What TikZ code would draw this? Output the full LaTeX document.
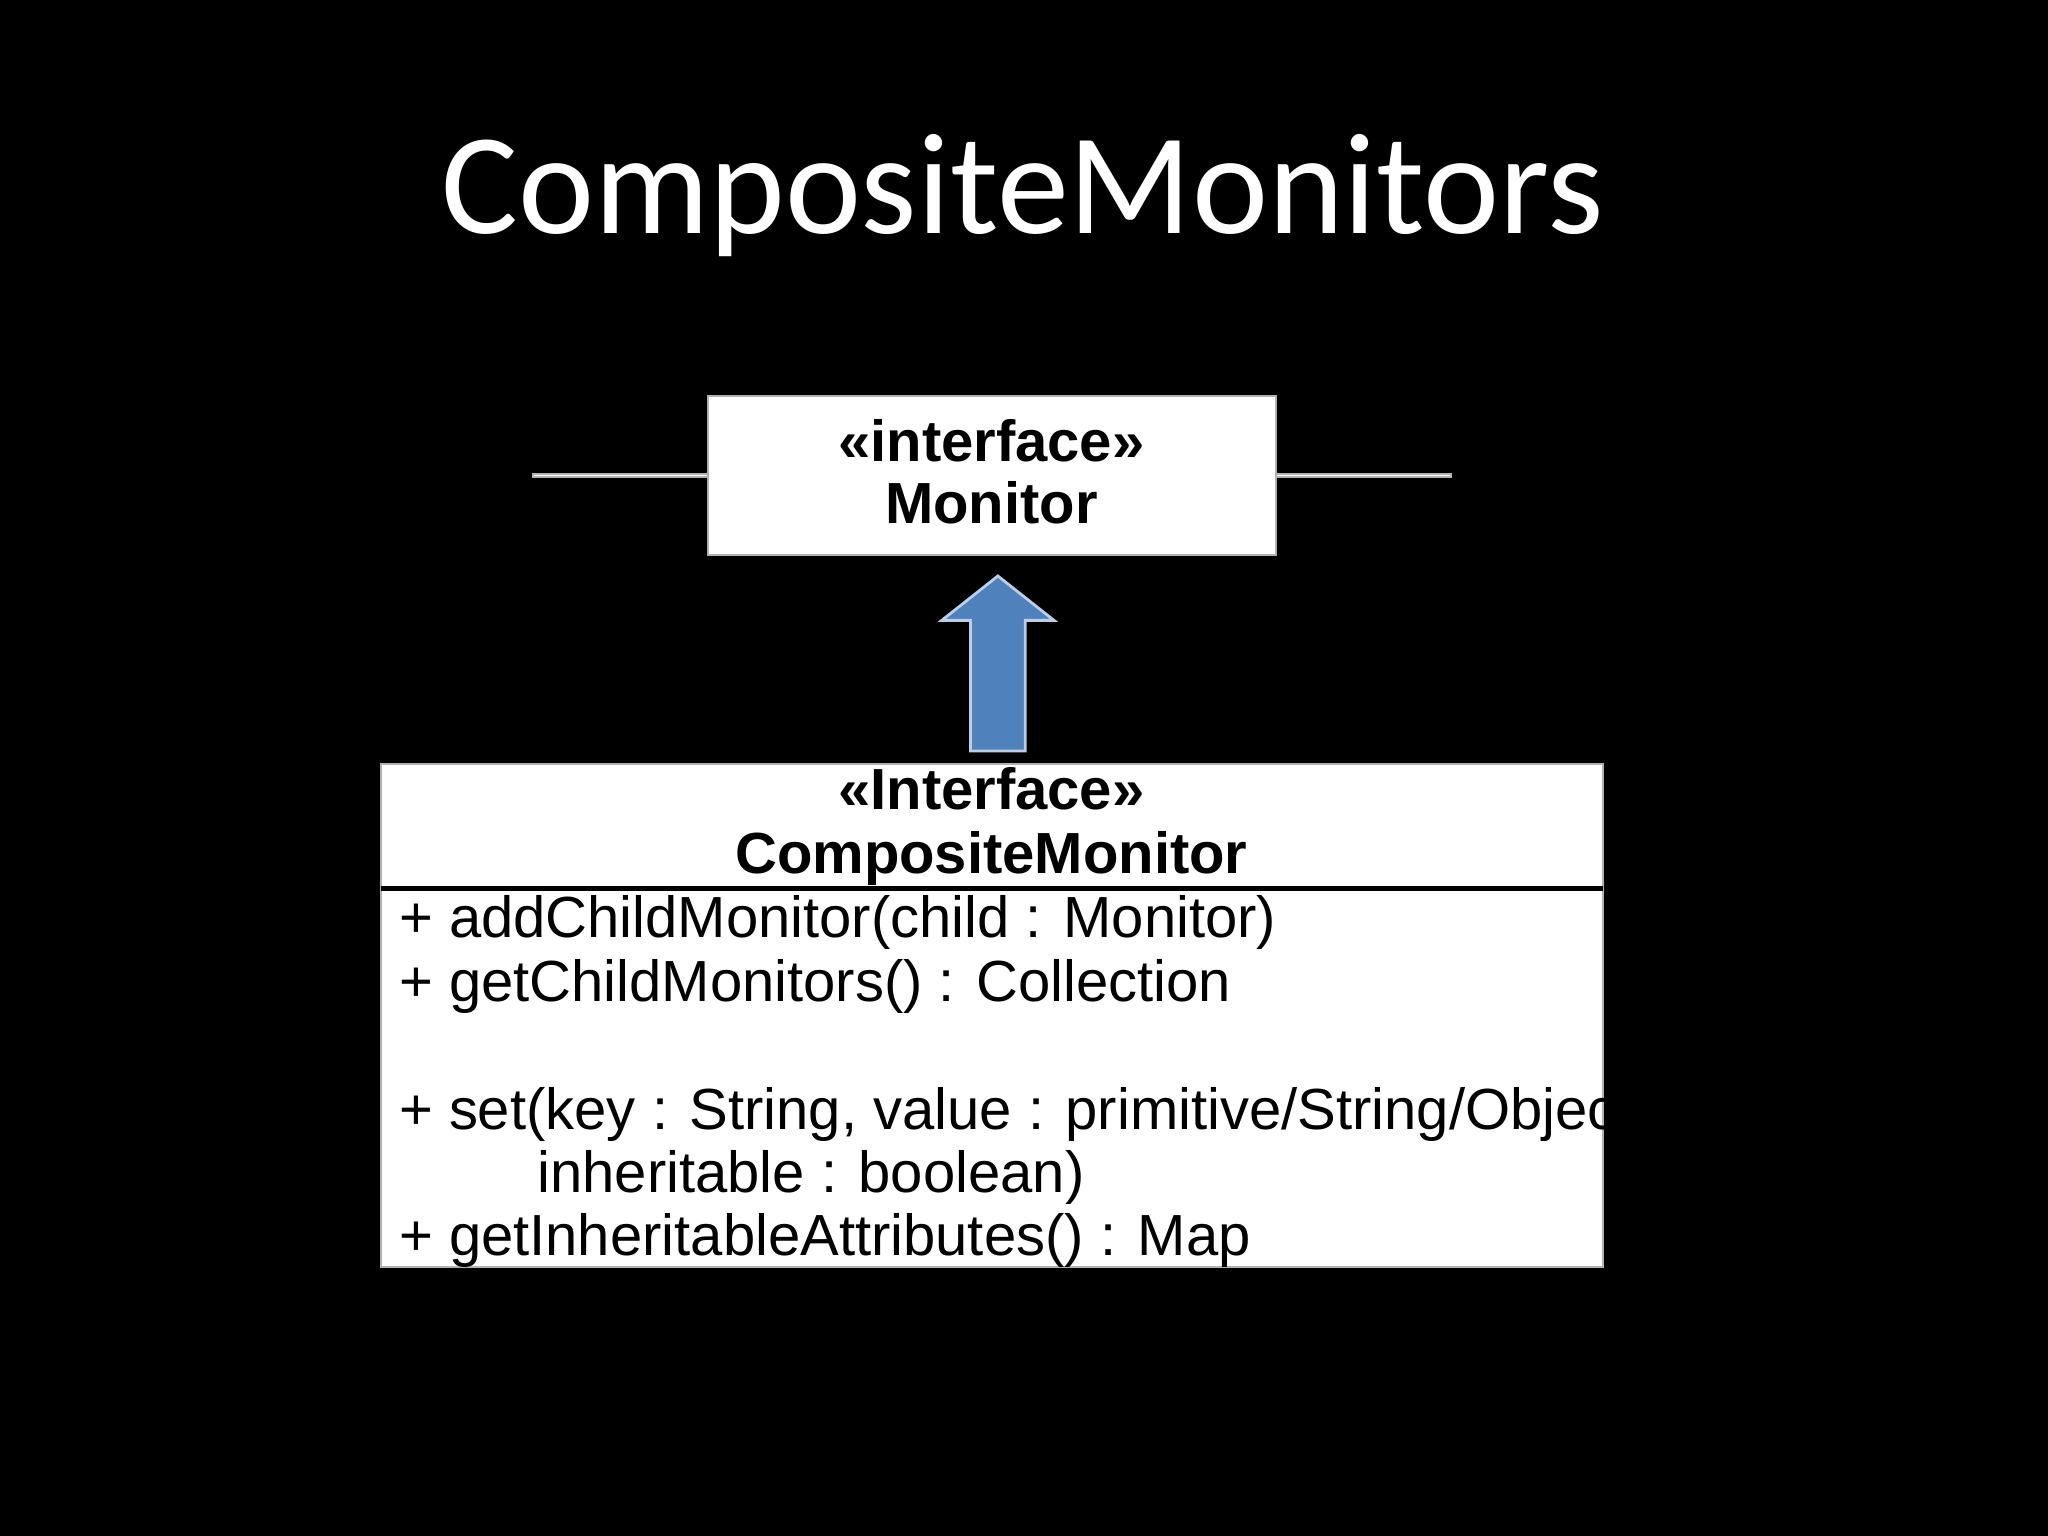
\documentclass[tikz,border=0pt]{standalone}
\usepackage{fontspec}
\setmainfont{Liberation Sans}
\newfontfamily\titlefont{Carlito}
\begin{document}
\begin{tikzpicture}[x=0.013061cm,y=-0.013061cm,
  umlbox/.style={draw=black!30,fill=white,line width=0.6pt},
  body/.style={anchor=base west,inner sep=0pt,font=\fontsize{16.5}{18}\selectfont},
  head/.style={anchor=base,inner sep=0pt,font=\bfseries\fontsize{16.5}{18}\selectfont}]
\fill[black] (0,0) rectangle (1568,1176);
\useasboundingbox (0,0) rectangle (1568,1176);
\node[inner sep=0pt,anchor=base,text=white,font=\titlefont\fontsize{41}{45}\selectfont] (title) at (783,179) {CompositeMonitors};
% Monitor
\node[umlbox,minimum width=435\pgflinewidth,inner sep=0pt] (mon) at (759.5,364) {};
\draw[umlbox] (542,303) rectangle (977,425);
\node[head] (m1) at (759,353) {<<interface>>};
\node[head] (m2) at (759,401) {Monitor};
% arrow
\coordinate (tip) at (764,441);
\draw[fill=blue!40!black!0,fill={rgb,255:red,79;green,129;blue,189},draw={rgb,255:red,190;green,205;blue,230},line width=0.8pt]
 (743,575) -- (743,475) -- (721,475) -- (tip) -- (807,475) -- (785,475) -- (785,575) -- cycle;
% CompositeMonitor
\draw[umlbox] (292,585) rectangle (1227,970);
\draw[black,line width=1.5pt] (292,680) -- (1227,680);
\node[head] (c1) at (759,620) {<<Interface>>};
\node[head] (c2) at (759,669) {CompositeMonitor};
\node[body] (b1) at (305,718) {+ addChildMonitor(child : Monitor)};
\node[body] (b2) at (305,767) {+ getChildMonitors() : Collection};
\node[body] (b3) at (305,865) {+ set(key : String, value : primitive/String/Object,};
\node[body] (b4) at (411,913) {inheritable : boolean)};
\node[body] (b5) at (305,961) {+ getInheritableAttributes() : Map};
\end{tikzpicture}
\end{document}
